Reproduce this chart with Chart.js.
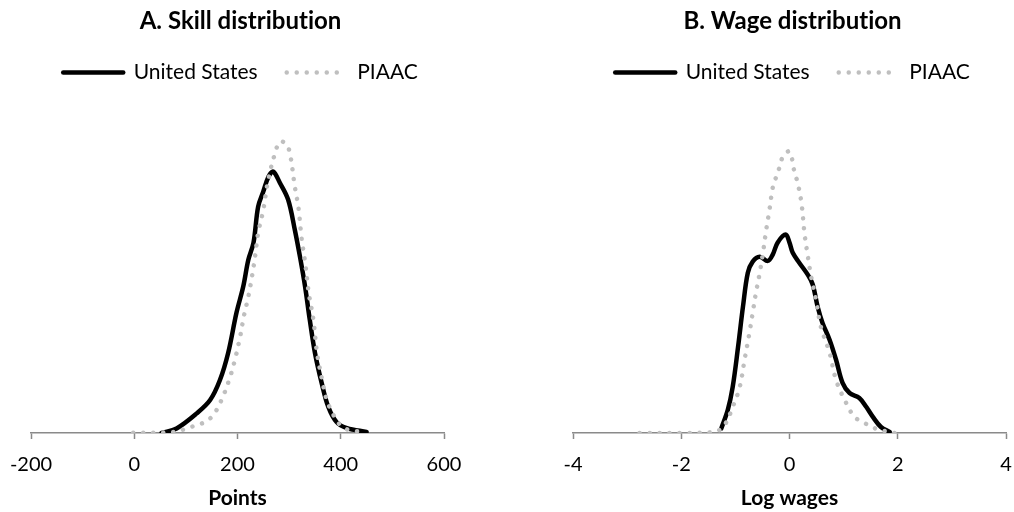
<!DOCTYPE html>
<html>
<head>
<meta charset="utf-8">
<script src="https://cdn.jsdelivr.net/npm/chart.js@4.4.1/dist/chart.umd.min.js"></script>
<style>
  html, body { margin: 0; padding: 0; background: #ffffff; }
  #wrap { position: relative; width: 1014px; height: 512px; }
  .box { position: absolute; top: 0; width: 507px; height: 512px; }
  #boxA { left: 0; }
  #boxB { left: 507px; }
</style>
</head>
<body>
<div id="wrap">
  <div class="box" id="boxA"><canvas id="chartA" width="507" height="512"></canvas></div>
  <div class="box" id="boxB"><canvas id="chartB" width="507" height="512"></canvas></div>
</div>
<script>
// ---- Titles and labels ----
const titleA = "A. Skill distribution";
const titleB = "B. Wage distribution";
const seriesNames = ["United States", "PIAAC"];
const axisTitleA = "Points";
const axisTitleB = "Log wages";
const skillTicks = [-200, 0, 200, 400, 600];
const wageTicks = [-4, -2, 0, 2, 4];

// ---- Panel A: skill distribution (density) ----
const skillUS_x = [53, 82, 121, 147, 166, 182, 198, 211, 221, 231, 240, 250, 260, 269, 282, 298, 311, 321, 331, 340, 350, 363, 376, 392, 412, 450];
const skillUS_y = [0.0000, 0.00013, 0.00056, 0.00094, 0.00151, 0.00229, 0.00343, 0.00417, 0.00494, 0.00543, 0.00646, 0.00689, 0.00731, 0.00746, 0.00714, 0.00666, 0.00580, 0.00503, 0.00417, 0.00323, 0.00229, 0.00143, 0.00074, 0.00031, 0.00014, 0.00003];
const skillPIAAC_x = [-2, 37, 76, 102, 121, 137, 153, 169, 185, 195, 205, 212, 221, 228, 234, 240, 250, 257, 264, 269, 282, 295, 302, 311, 318, 324, 331, 338, 347, 354, 364, 373, 386, 399, 415, 450];
const skillPIAAC_y = [0.00001, 0.00001, 0.00003, 0.00013, 0.00023, 0.00031, 0.00051, 0.00094, 0.00157, 0.00209, 0.00274, 0.00331, 0.00389, 0.00446, 0.00503, 0.00571, 0.00637, 0.00703, 0.00751, 0.00780, 0.00831, 0.00823, 0.00794, 0.00703, 0.00643, 0.00557, 0.00486, 0.00400, 0.00323, 0.00229, 0.00151, 0.00094, 0.00051, 0.00023, 0.00009, 0.00003];

// ---- Panel B: wage distribution (density of log wages) ----
const wageUS_x = [-1.26, -1.14, -1.05, -0.95, -0.86, -0.77, -0.68, -0.55, -0.40, -0.31, -0.22, -0.07, 0.00, 0.06, 0.18, 0.34, 0.43, 0.52, 0.61, 0.74, 0.86, 0.98, 1.11, 1.29, 1.42, 1.54, 1.69, 1.85];
const wageUS_y = [0.013, 0.066, 0.131, 0.246, 0.360, 0.457, 0.489, 0.503, 0.491, 0.509, 0.543, 0.566, 0.543, 0.514, 0.486, 0.451, 0.423, 0.360, 0.314, 0.266, 0.209, 0.143, 0.114, 0.100, 0.074, 0.046, 0.017, 0.003];
const wagePIAAC_x = [-2.77, -1.97, -1.38, -1.20, -1.05, -0.92, -0.83, -0.74, -0.68, -0.62, -0.55, -0.49, -0.43, -0.37, -0.31, -0.25, -0.18, -0.12, 0.00, 0.09, 0.15, 0.22, 0.28, 0.34, 0.40, 0.49, 0.58, 0.74, 0.86, 1.02, 1.20, 1.38, 1.57, 1.75, 1.94];
const wagePIAAC_y = [0, 0, 0.003, 0.023, 0.074, 0.131, 0.209, 0.286, 0.343, 0.400, 0.457, 0.514, 0.580, 0.637, 0.700, 0.729, 0.760, 0.789, 0.803, 0.746, 0.714, 0.657, 0.566, 0.503, 0.446, 0.380, 0.303, 0.229, 0.151, 0.094, 0.046, 0.029, 0.014, 0.006, 0];

const FONT = "Lato, 'Open Sans', 'DejaVu Sans', sans-serif";
const US_COLOR = "#000000";
const PIAAC_COLOR = "#bfbfbf";
const AXIS_COLOR = "#8a8a8a";
const LINE_W = 4.5;

function pts(xs, ys) { return xs.map((x, i) => ({ x: x, y: ys[i] })); }

// Disable typographic ligatures (e.g. Lato's "ti") so the text reads like the original.
const noLigatures = {
  id: "noLigatures",
  beforeInit(chart) { try { chart.ctx.textRendering = "optimizeSpeed"; } catch (e) {} },
  beforeLayout(chart) { try { chart.ctx.textRendering = "optimizeSpeed"; } catch (e) {} },
  beforeDraw(chart) { try { chart.ctx.textRendering = "optimizeSpeed"; } catch (e) {} }
};

function makeChart(canvasId, title, xTitle, ticks, xMin, xMax, yMax, usX, usY, piX, piY, padL, padR) {
  const ctx = document.getElementById(canvasId).getContext("2d");
  return new Chart(ctx, {
    type: "line",
    plugins: [noLigatures],
    data: {
      datasets: [
        {
          label: seriesNames[0],
          data: pts(usX, usY),
          borderColor: US_COLOR,
          backgroundColor: US_COLOR,
          borderWidth: LINE_W,
          borderCapStyle: "round",
          borderJoinStyle: "round",
          pointRadius: 0,
          pointHoverRadius: 0,
          pointStyle: "line",
          tension: 0.35,
          fill: false,
          order: 1
        },
        {
          label: seriesNames[1],
          data: pts(piX, piY),
          borderColor: PIAAC_COLOR,
          backgroundColor: PIAAC_COLOR,
          borderWidth: LINE_W,
          borderDash: [0.01, 10],
          borderCapStyle: "round",
          borderJoinStyle: "round",
          pointRadius: 0,
          pointHoverRadius: 0,
          pointStyle: "line",
          tension: 0.35,
          fill: false,
          order: 0
        }
      ]
    },
    options: {
      responsive: false,
      animation: false,
      devicePixelRatio: 1,
      layout: { padding: { left: padL, right: padR, top: 0, bottom: 0 } },
      plugins: {
        title: {
          display: true,
          text: title,
          color: "#000",
          font: { family: FONT, size: 24, weight: "bold", lineHeight: 1.0 },
          padding: { top: 9, bottom: 0 }
        },
        legend: {
          display: true,
          position: "top",
          labels: {
            color: "#000",
            font: { family: FONT, size: 21, lineHeight: 1.0 },
            usePointStyle: true,
            pointStyleWidth: 60,
            boxHeight: 20,
            padding: 29,
            sort: (a, b) => a.datasetIndex - b.datasetIndex,
            generateLabels: (chart) => {
              const items = Chart.defaults.plugins.legend.labels.generateLabels(chart);
              items.forEach(it => {
                const ds = chart.data.datasets[it.datasetIndex];
                it.lineDash = ds.borderDash || [];
                it.lineCap = "round";
                it.lineWidth = LINE_W;
                it.strokeStyle = ds.borderColor;
                it.fillStyle = ds.borderColor;
                it.pointStyle = "line";
              });
              return items;
            }
          }
        },
        tooltip: { enabled: false }
      },
      scales: {
        x: {
          type: "linear",
          min: xMin,
          max: xMax,
          afterBuildTicks: (scale) => { scale.ticks = ticks.map(v => ({ value: v })); },
          grid: {
            display: true,
            drawOnChartArea: false,
            drawTicks: true,
            tickLength: 6,
            tickWidth: 1.5,
            color: AXIS_COLOR
          },
          border: { display: true, color: AXIS_COLOR, width: 1.5 },
          ticks: {
            color: "#000",
            font: { family: FONT, size: 20, lineHeight: 2.4 },
            padding: 2,
            maxRotation: 0,
            autoSkip: false
          },
          title: {
            display: true,
            text: xTitle,
            color: "#000",
            font: { family: FONT, size: 21, weight: "bold" },
            padding: { top: -5.2, bottom: 1 }
          }
        },
        y: {
          type: "linear",
          display: true,
          position: "right",
          min: 0,
          max: yMax,
          grid: { display: false, drawTicks: false },
          border: { display: false },
          ticks: { display: false },
          afterFit: (scale) => { scale.width = 6; }
        }
      }
    }
  });
}

function draw() {
  makeChart("chartA", titleA, axisTitleA, skillTicks, -200, 600, 0.0097,
    skillUS_x, skillUS_y, skillPIAAC_x, skillPIAAC_y, 31, 57);
  makeChart("chartB", titleB, axisTitleB, wageTicks, -4, 4, 0.97,
    wageUS_x, wageUS_y, wagePIAAC_x, wagePIAAC_y, 66, 2);
}

const fontLoads = [
  document.fonts.load("20px Lato"),
  document.fonts.load("bold 20px Lato")
];
Promise.race([
  Promise.all(fontLoads),
  new Promise(r => setTimeout(r, 800))
]).then(draw, draw);
</script>
</body>
</html>
